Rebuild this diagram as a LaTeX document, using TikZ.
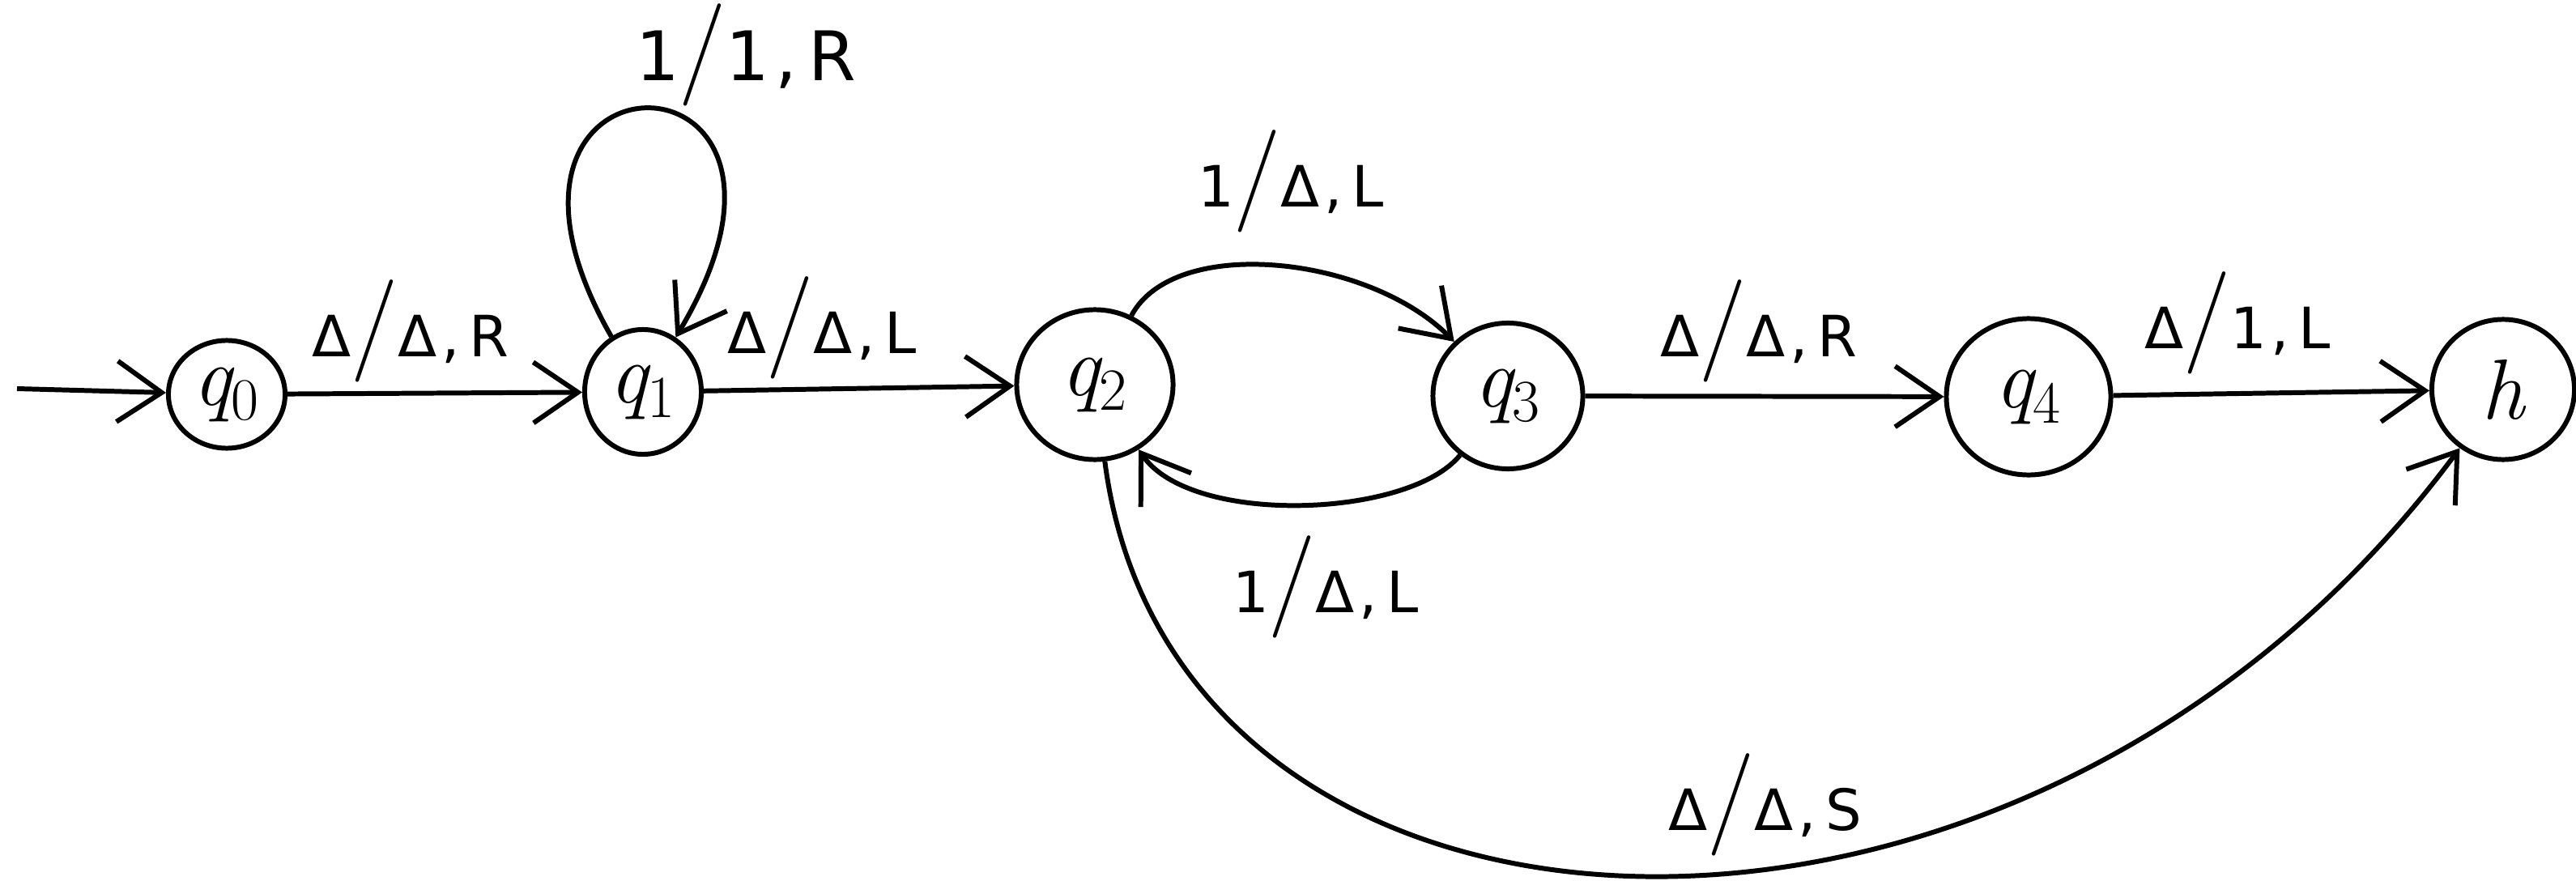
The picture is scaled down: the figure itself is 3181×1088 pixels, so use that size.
\documentclass[tikz,border=0pt]{standalone}
\usepackage{fontspec}
\usetikzlibrary{arrows.meta,shapes.geometric}
\newfontfamily\lblfont[LetterSpace=8]{DejaVu Sans}
\newcommand{\bigsl}{{\rmfamily\fontsize{36}{36}\selectfont/}}
\newcommand{\tlab}[3]{#1\bigsl#2,\,#3}
\newcommand{\qsub}[1]{{\itshape q}\textsubscript{#1}}
\tikzset{
  stnode/.style={ellipse, draw, line width=1.7pt, inner sep=0pt,
    font=\rmfamily\fontsize{30}{30}\selectfont},
  tlabel/.style={anchor=base, inner sep=0pt, font=\lblfont\fontsize{20}{24}\selectfont},
  tedge/.style={line width=1.7pt, -{Straight Barb[length=5.5mm,width=7.5mm]}},
}
\begin{document}
\begin{tikzpicture}[x=0.01cm,y=-0.01cm]
\useasboundingbox[fill=white] (0,0) rectangle (3181,1088);
% states
\node[stnode, minimum width=1.44cm, minimum height=1.33cm] (q0) at (280,487) {\qsub{0}};
\node[stnode, minimum width=1.44cm, minimum height=1.54cm] (q1) at (794,484) {\qsub{1}};
\node[stnode, minimum width=1.93cm, minimum height=1.85cm] (q2) at (1352,475) {\qsub{2}};
\node[stnode, minimum width=1.85cm, minimum height=1.80cm] (q3) at (1862,489) {\qsub{3}};
\node[stnode, minimum width=2.03cm, minimum height=1.93cm] (q4) at (2505,490) {\qsub{4}};
\node[stnode, minimum width=1.76cm, minimum height=1.73cm] (h) at (3091,481) {{\itshape h}};
\coordinate (start) at (21,480);
% transitions
\draw[tedge] (start) -- (q0);
\draw[tedge] (q0) -- (q1);
\draw[tedge] (q1) .. controls (540,40) and (1060,40) .. (q1);
\draw[tedge] (q1) -- (q2);
\draw[tedge] (q2) .. controls (1450,290) and (1690,315) .. (q3);
\draw[tedge] (q3) .. controls (1740,640) and (1470,650) .. (q2);
\draw[tedge] (q3) -- (q4);
\draw[tedge] (q4) -- (h);
\draw[tedge] (q2) .. controls (1450,1230) and (2500,1280) .. (h);
% labels
\node[tlabel] (l01) at (507,440) {\tlab{Δ}{Δ}{R}};
\node[tlabel, font=\lblfont\fontsize{24}{28}\selectfont] (lloop) at (921,100) {\tlab{1}{1}{R}};
\node[tlabel] (l12) at (1015,436) {\tlab{Δ}{Δ}{L}};
\node[tlabel] (l23) at (1594,256) {\tlab{1}{Δ}{L}};
\node[tlabel] (l32) at (1637,756) {\tlab{1}{Δ}{L}};
\node[tlabel] (l34) at (2172,440) {\tlab{Δ}{Δ}{R}};
\node[tlabel] (l4h) at (2763,430) {\tlab{Δ}{1}{L}};
\node[tlabel] (l2h) at (2180,1025) {\tlab{Δ}{Δ}{S}};
\end{tikzpicture}
\end{document}
